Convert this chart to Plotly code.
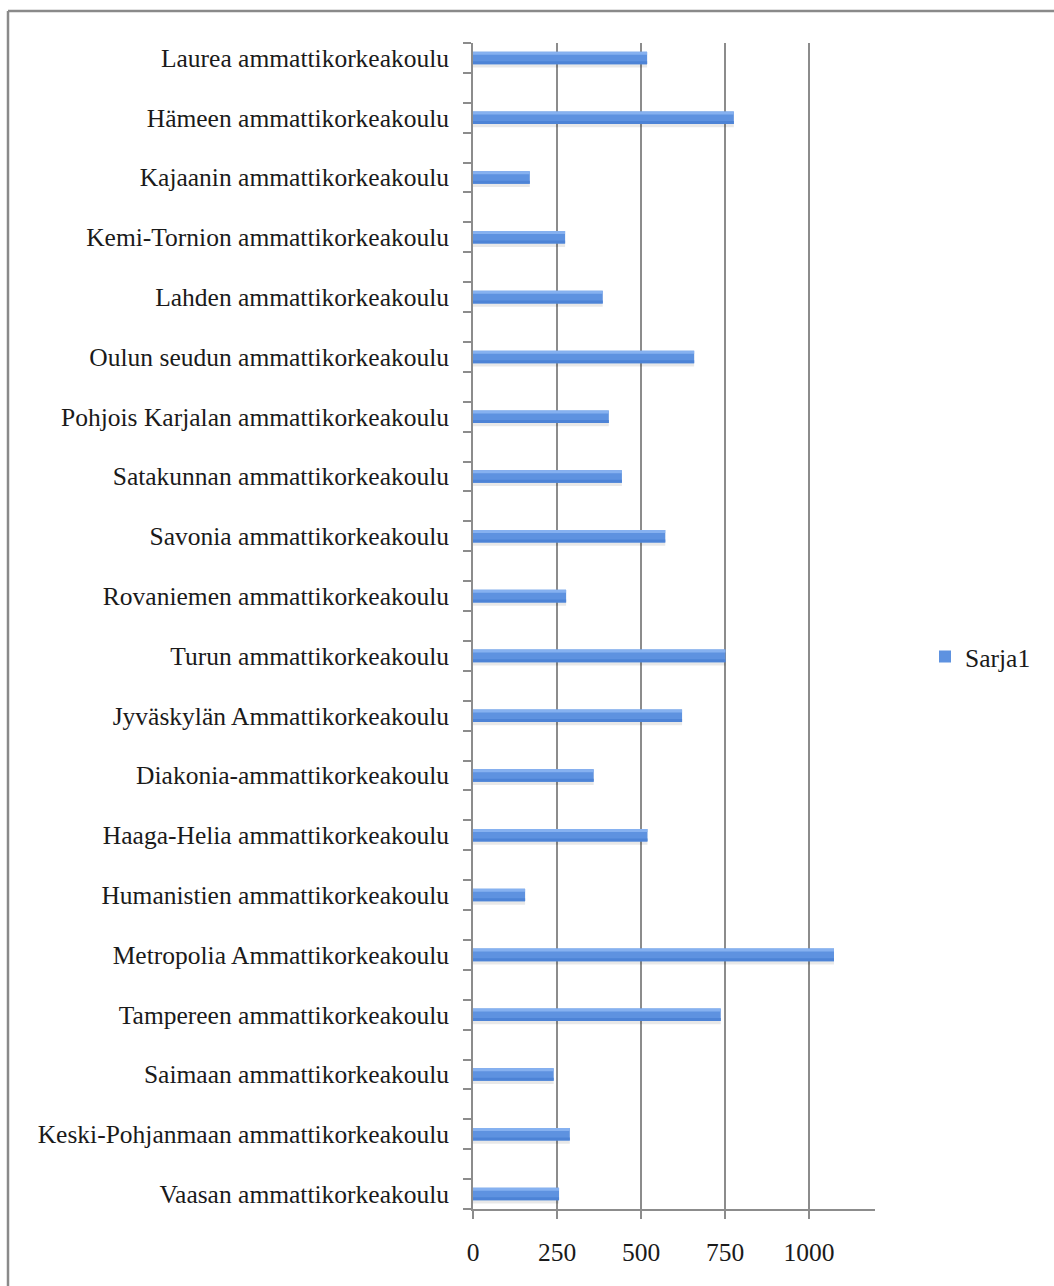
import plotly.graph_objects as go

# Categories listed top-to-bottom as in the reference
categories = [
    "Laurea ammattikorkeakoulu",
    "Hämeen ammattikorkeakoulu",
    "Kajaanin ammattikorkeakoulu",
    "Kemi-Tornion ammattikorkeakoulu",
    "Lahden ammattikorkeakoulu",
    "Oulun seudun ammattikorkeakoulu",
    "Pohjois Karjalan ammattikorkeakoulu",
    "Satakunnan ammattikorkeakoulu",
    "Savonia ammattikorkeakoulu",
    "Rovaniemen ammattikorkeakoulu",
    "Turun ammattikorkeakoulu",
    "Jyväskylän Ammattikorkeakoulu",
    "Diakonia-ammattikorkeakoulu",
    "Haaga-Helia ammattikorkeakoulu",
    "Humanistien ammattikorkeakoulu",
    "Metropolia Ammattikorkeakoulu",
    "Tampereen ammattikorkeakoulu",
    "Saimaan ammattikorkeakoulu",
    "Keski-Pohjanmaan ammattikorkeakoulu",
    "Vaasan ammattikorkeakoulu",
]
sarja1 = [518, 776, 169, 274, 386, 658, 404, 443, 572, 277,
          751, 622, 359, 519, 155, 1074, 737, 240, 288, 256]
x_tick_values = [0, 250, 500, 750, 1000]
series_name = "Sarja1"

# Each category uses every second slot (blank slot between categories)
positions = [2 * i for i in range(len(categories))]
boundaries = [p - 0.5 for p in range(2 * len(categories))]

W, H = 1054, 1286
ML, MR, MT, MB = 473, 179, 43, 77
pw, ph = W - ML - MR, H - MT - MB

FONT = "Liberation Serif"
GRID = "#8c8c8c"
TXT = "#1a1a1a"
FS = 25.5

fig = go.Figure()
# soft shadow under bars
fig.add_trace(go.Bar(
    y=positions, x=sarja1, orientation="h", width=0.44, offset=-0.12,
    marker=dict(color="rgba(0,0,0,0.09)", line=dict(width=0)),
    showlegend=False, hoverinfo="skip",
))
# main bars
fig.add_trace(go.Bar(
    y=positions, x=sarja1, orientation="h", name=series_name,
    width=0.42, offset=-0.21,
    marker=dict(color="#5e92e0", line=dict(width=0)),
    showlegend=True,
))
# top highlight band
fig.add_trace(go.Bar(
    y=positions, x=sarja1, orientation="h", width=0.1, offset=-0.21,
    marker=dict(color="#86b1f0", line=dict(width=0)),
    showlegend=False, hoverinfo="skip",
))
# bottom darker band
fig.add_trace(go.Bar(
    y=positions, x=sarja1, orientation="h", width=0.1, offset=0.11,
    marker=dict(color="#4d83d6", line=dict(width=0)),
    showlegend=False, hoverinfo="skip",
))

fig.update_layout(
    width=W, height=H,
    margin=dict(l=ML, r=MR, t=MT, b=MB, pad=0),
    paper_bgcolor="white", plot_bgcolor="white",
    barmode="overlay",
    font=dict(family=FONT, size=FS, color=TXT),
    legend=dict(
        x=(925 - ML) / pw, y=(H - MB - 657) / ph, xanchor="left", yanchor="middle",
        font=dict(family=FONT, size=FS, color=TXT), bgcolor="rgba(0,0,0,0)",
        itemwidth=30, tracegroupgap=0,
    ),
    xaxis=dict(
        range=[0, 1196], tickmode="array", tickvals=x_tick_values,
        ticktext=[str(v) for v in x_tick_values],
        showgrid=True, gridcolor=GRID, gridwidth=1.6,
        showline=True, linecolor=GRID, linewidth=1.6,
        ticks="outside", ticklen=8, tickcolor=GRID, tickwidth=1.6,
        ticklabelstandoff=12, zeroline=False,
        tickfont=dict(family=FONT, size=FS, color=TXT),
    ),
    yaxis=dict(
        range=[2 * len(categories) - 1.5, -0.5],
        tickmode="array", tickvals=positions, ticktext=categories,
        ticks="", showgrid=False, zeroline=False,
        showline=True, linecolor=GRID, linewidth=1.6,
        ticklabelstandoff=17,
        tickfont=dict(family=FONT, size=FS, color=TXT),
        minor=dict(tickmode="array", tickvals=boundaries, ticks="outside",
                   ticklen=8, tickcolor=GRID, tickwidth=1.6, showgrid=False),
    ),
)

# outer frame (left and top edges visible)
fx = (8 - ML) / pw
fy_top = (H - MB - 11) / ph
fy_bot = (H - MB - H - 5) / ph
fig.add_shape(type="line", xref="paper", yref="paper", x0=fx, x1=fx, y0=fy_bot, y1=fy_top,
              line=dict(color="#8a8a8a", width=2.5))
fig.add_shape(type="line", xref="paper", yref="paper", x0=fx, x1=(W + 5 - ML) / pw, y0=fy_top, y1=fy_top,
              line=dict(color="#8a8a8a", width=2.5))

fig.write_html("out.html")
